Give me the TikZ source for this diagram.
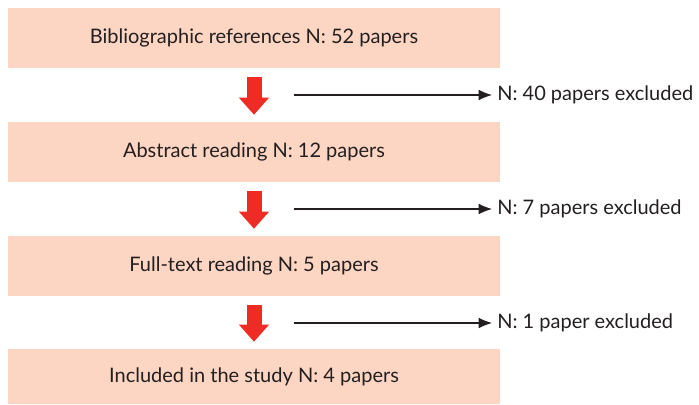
\documentclass[tikz,border=0pt]{standalone}
\usepackage{fontspec}
\setmainfont{Lato}
\usetikzlibrary{arrows.meta}

\definecolor{peach}{HTML}{FDD5C3}
\definecolor{flowred}{HTML}{EE2C25}
\definecolor{ink}{HTML}{231F20}

\begin{document}
\begin{tikzpicture}[>={Latex[length = 10pt, width = 8pt]}, x = 0.75pt, y = -0.75pt]
    \useasboundingbox (0, 0) rectangle (699, 404);

    \tikzstyle{stage} = [rectangle, fill = peach, text = ink, inner sep = 0pt, minimum width = 369pt, minimum height = 45pt, font = \fontsize{15}{17}\selectfont]
    \tikzstyle{down} = [draw = flowred, line width = 11.25pt, -{Triangle[width = 21.75pt, length = 12.75pt]}, shorten < = 6.75pt, shorten > = 5.25pt]
    \tikzstyle{note} = [anchor = west, text = ink, inner xsep = 3.75pt, inner ysep = 0pt, font = \fontsize{15}{17}\selectfont]

    \node[stage] (a) at (254, 38) {Bibliographic references N: 52 papers};
    \node[stage] (b) at (254, 152) {Abstract reading N: 12 papers};
    \node[stage] (c) at (254, 266) {Full-text reading N: 5 papers};
    \node[stage, minimum height = 41.25pt] (d) at (254, 376.5) {Included in the study N: 4 papers};

    \draw[down] (a) -- (b);
    \draw[down] (b) -- (c);
    \draw[down] (c) -- (d);

    \node[note] (x1) at (492, 95) {N: 40 papers excluded};
    \node[note] (x2) at (492, 209) {N: 7 papers excluded};
    \node[note] (x3) at (492, 323) {N: 1 paper excluded};

    \coordinate (s1) at (294, 95);
    \coordinate (s2) at (294, 209);
    \coordinate (s3) at (294, 323);

    \draw[->, ink, line width = 0.8pt] (s1) -- (x1.west);
    \draw[->, ink, line width = 0.8pt] (s2) -- (x2.west);
    \draw[->, ink, line width = 0.8pt] (s3) -- (x3.west);
\end{tikzpicture}
\end{document}
